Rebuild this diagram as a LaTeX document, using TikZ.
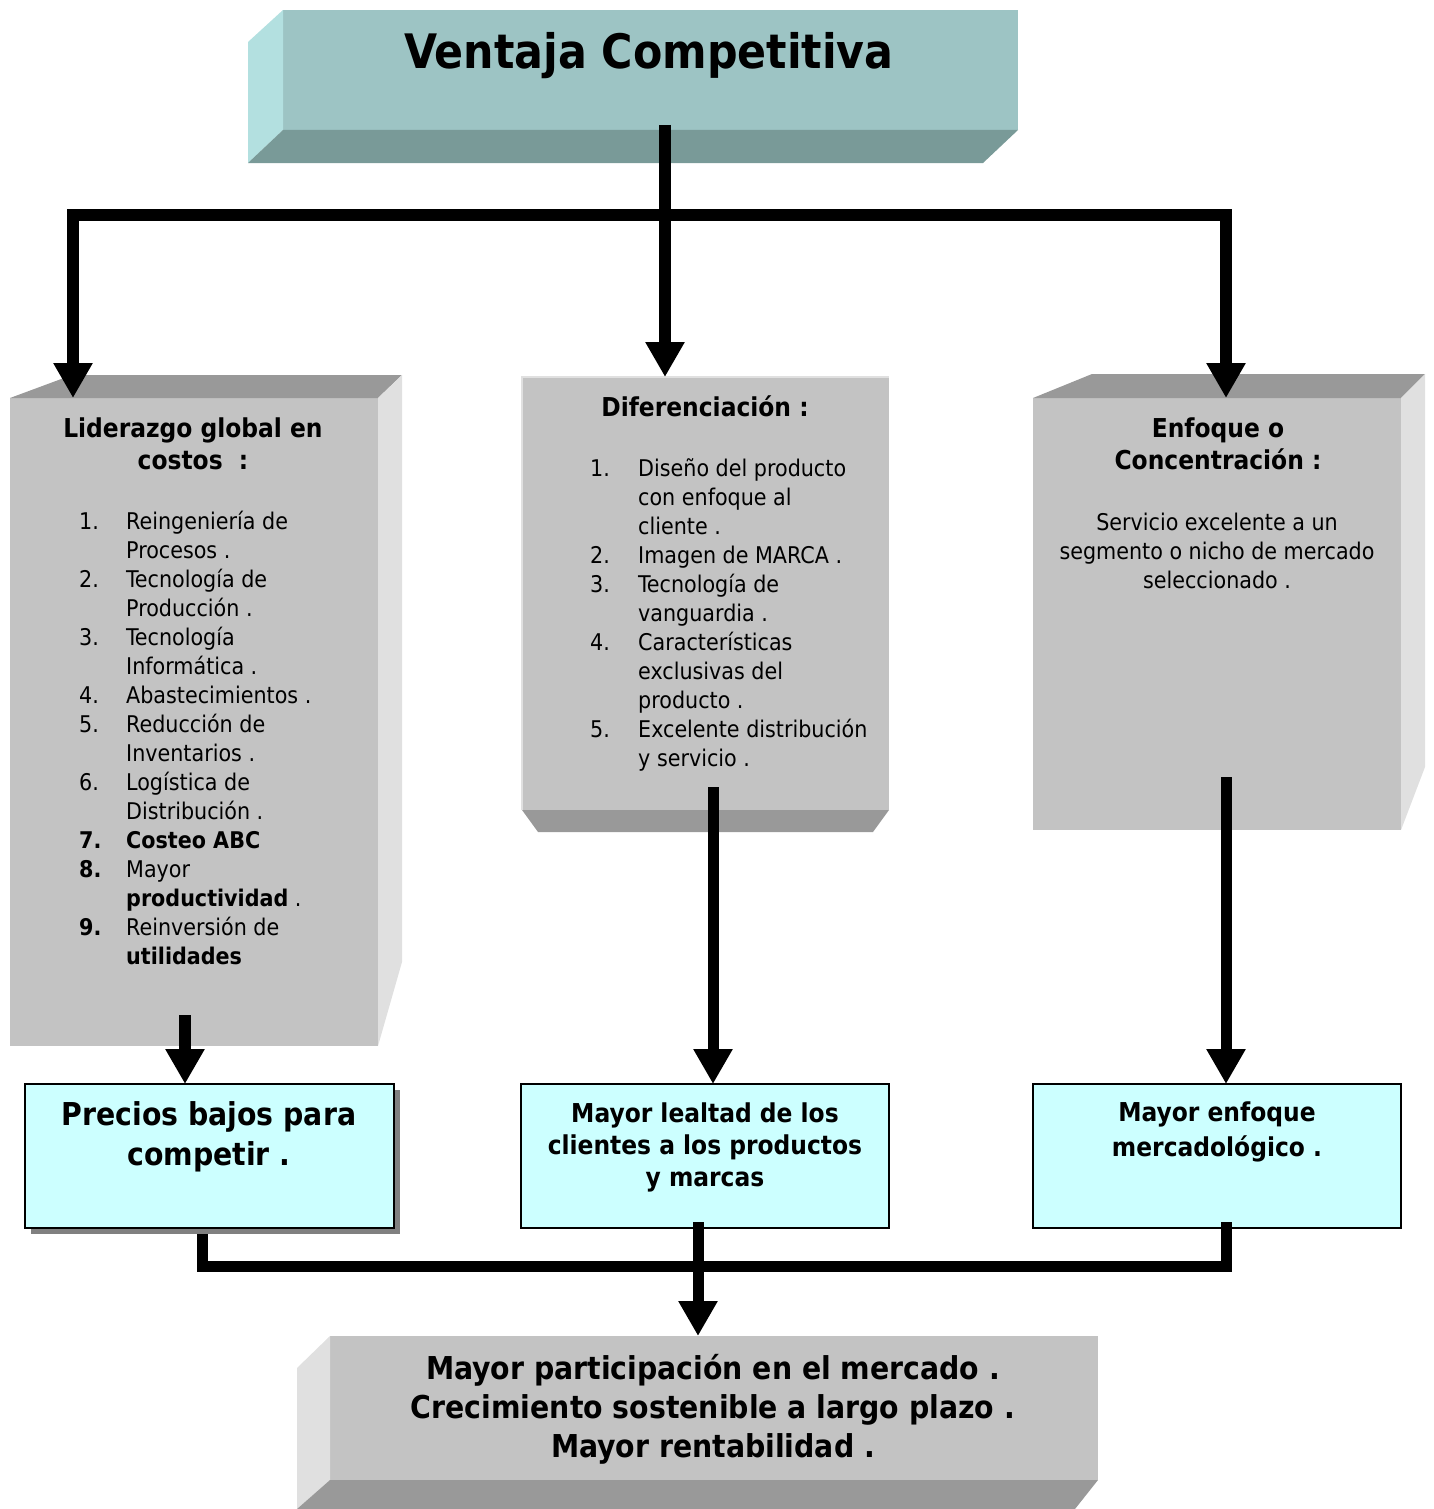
\documentclass[tikz,border=0pt]{standalone}
\usepackage{fontspec}
\setmainfont{DejaVu Sans Condensed}
\usetikzlibrary{arrows.meta}
\definecolor{topfront}{HTML}{9DC4C4}
\definecolor{topside}{HTML}{B3E0E0}
\definecolor{topbottom}{HTML}{799A98}
\definecolor{grayfront}{HTML}{C3C3C3}
\definecolor{grayedge}{HTML}{999999}
\definecolor{grayside}{HTML}{E0E0E0}
\definecolor{lightcyan}{HTML}{CCFFFF}
\definecolor{shadowgray}{HTML}{808080}
\begin{document}
\begin{tikzpicture}[x=1pt,y=-1pt,
  face/.style={inner sep=0pt,outer sep=0pt,anchor=north west},
  txt/.style={inner sep=0pt,align=center},
  lst/.style={inner sep=0pt,anchor=base west},
  conn/.style={line width=12pt,line join=miter},
  connb/.style={line width=11pt,line join=miter},
  tip/.style={-{Triangle[width=37pt,length=35pt]}},
  cbox/.style={face,draw=black,line width=1.5pt,fill=lightcyan}]
\useasboundingbox (0,0) rectangle (1433,1509);
% ---------- top box ----------
\node[face,fill=topfront,minimum width=735pt,minimum height=120pt] (top) at (283,10) {};
\fill[topside] (top.north west) -- (248,42) -- (248,163) -- (top.south west) -- cycle;
\fill[topbottom] (top.south west) -- (top.south east) -- (983,163) -- (248,163) -- cycle;
\node[txt,font=\fontsize{47.5}{52}\selectfont\bfseries] (title) at (649,56) {Ventaja Competitiva};
% ---------- left gray box ----------
\node[face,fill=grayfront,minimum width=368pt,minimum height=648pt] (lb) at (10,398) {};
\fill[grayedge] (lb.north west) -- (72,375) -- (402,375) -- (lb.north east) -- cycle;
\fill[grayside] (lb.north east) -- (402,375) -- (402,962) -- (lb.south east) -- cycle;
\node[txt,font=\fontsize{26}{32}\selectfont\bfseries] (lbt) at (193,444) {Liderazgo global en\\costos\ \ :};
\node[lst,font=\fontsize{23}{29}\selectfont] (lbl) at (79,529) {\begin{tabular}[t]{@{}p{47pt}@{}l@{}}
1. & Reingeniería de\\
   & Procesos .\\
2. & Tecnología de\\
   & Producción .\\
3. & Tecnología\\
   & Informática .\\
4. & Abastecimientos .\\
5. & Reducción de\\
   & Inventarios .\\
6. & Logística de\\
   & Distribución .\\
\textbf{7.} & \textbf{Costeo ABC}\\
\textbf{8.} & Mayor\\
   & \textbf{productividad} .\\
\textbf{9.} & Reinversión de\\
   & \textbf{utilidades}
\end{tabular}};
% ---------- middle gray box ----------
\node[face,fill=grayfront,minimum width=367pt,minimum height=433pt] (mb) at (522,377) {};
\fill[grayedge] (mb.south west) -- (mb.south east) -- (873,832) -- (538,832) -- cycle;
\draw[grayside,line width=1.5pt] (mb.south west) -- (mb.north west) -- (mb.north east);
\node[txt,font=\fontsize{26}{32}\selectfont\bfseries] (mbt) at (705,406) {Diferenciación :};
\node[lst,font=\fontsize{23}{29}\selectfont] (mbl) at (590,476) {\begin{tabular}[t]{@{}p{48pt}@{}l@{}}
1. & Diseño del producto\\
   & con enfoque al\\
   & cliente .\\
2. & Imagen de MARCA .\\
3. & Tecnología de\\
   & vanguardia .\\
4. & Características\\
   & exclusivas del\\
   & producto .\\
5. & Excelente distribución\\
   & y servicio .
\end{tabular}};
% ---------- right gray box ----------
\node[face,fill=grayfront,minimum width=368pt,minimum height=432pt] (rb) at (1033,398) {};
\fill[grayedge] (rb.north west) -- (1092,374) -- (1425,374) -- (rb.north east) -- cycle;
\fill[grayside] (rb.north east) -- (1425,374) -- (1425,767) -- (rb.south east) -- cycle;
\node[txt,font=\fontsize{26}{32}\selectfont\bfseries] (rbt) at (1218,444) {Enfoque o\\Concentración :};
\node[txt,font=\fontsize{23}{29}\selectfont] (rbl) at (1217,551) {Servicio excelente a un\\segmento o nicho de mercado\\seleccionado .};
% ---------- cyan boxes ----------
\fill[shadowgray] (31,1090) rectangle (400,1234);
\node[cbox,minimum width=369pt,minimum height=144pt] (c1) at (25,1084) {};
\node[txt,font=\fontsize{31.5}{40}\selectfont\bfseries] (c1t) at (209,1137) {Precios bajos para\\competir .};
\node[cbox,minimum width=368pt,minimum height=144pt] (c2) at (521,1084) {};
\node[txt,font=\fontsize{26}{32}\selectfont\bfseries] (c2t) at (705,1147) {Mayor lealtad de los\\clientes a los productos\\y marcas};
\node[cbox,minimum width=368pt,minimum height=144pt] (c3) at (1033,1084) {};
\node[txt,font=\fontsize{26}{35}\selectfont\bfseries] (c3t) at (1217,1132) {Mayor enfoque\\mercadológico .};
% ---------- bottom box ----------
\node[face,fill=grayfront,minimum width=768pt,minimum height=144pt] (bb) at (330,1336) {};
\fill[grayside] (bb.north west) -- (297,1368) -- (297,1509) -- (bb.south west) -- cycle;
\fill[grayedge] (bb.south west) -- (bb.south east) -- (1075,1509) -- (297,1509) -- cycle;
\node[txt,font=\fontsize{31.5}{39}\selectfont\bfseries] (bbt) at (713,1409) {Mayor participación en el mercado .\\Crecimiento sostenible a largo plazo .\\Mayor rentabilidad .};
% ---------- connectors ----------
\coordinate (s0) at (665,125);
\coordinate (j0) at (665,215);
\draw[conn] (s0) -- (j0);
\draw[conn,tip] (j0) -- (73,215) -- (lb.north west -| 73,0);
\draw[conn,tip] (j0) -- (mb.north -| 665,0);
\draw[conn,tip] (j0) -- (1226,215) -- (rb.north west -| 1226,0);
\coordinate (s1) at (185,1015);
\draw[conn,tip] (s1) -- (c1.north west -| 185,0);
\coordinate (s2) at (713,787);
\draw[connb,tip] (s2) -- (c2.north west -| 713,0);
\coordinate (s3) at (1226,777);
\draw[connb,tip] (s3) -- (c3.north west -| 1226,0);
\coordinate (s4) at (202,1234);
\coordinate (j1) at (202,1266);
\coordinate (s5) at (1226,1222);
\coordinate (s6) at (698,1222);
\draw[connb] (s4) -- (j1) -- (1226,1266) -- (s5);
\draw[connb,tip] (s6) -- (bb.north west -| 698,0);
\end{tikzpicture}
\end{document}
